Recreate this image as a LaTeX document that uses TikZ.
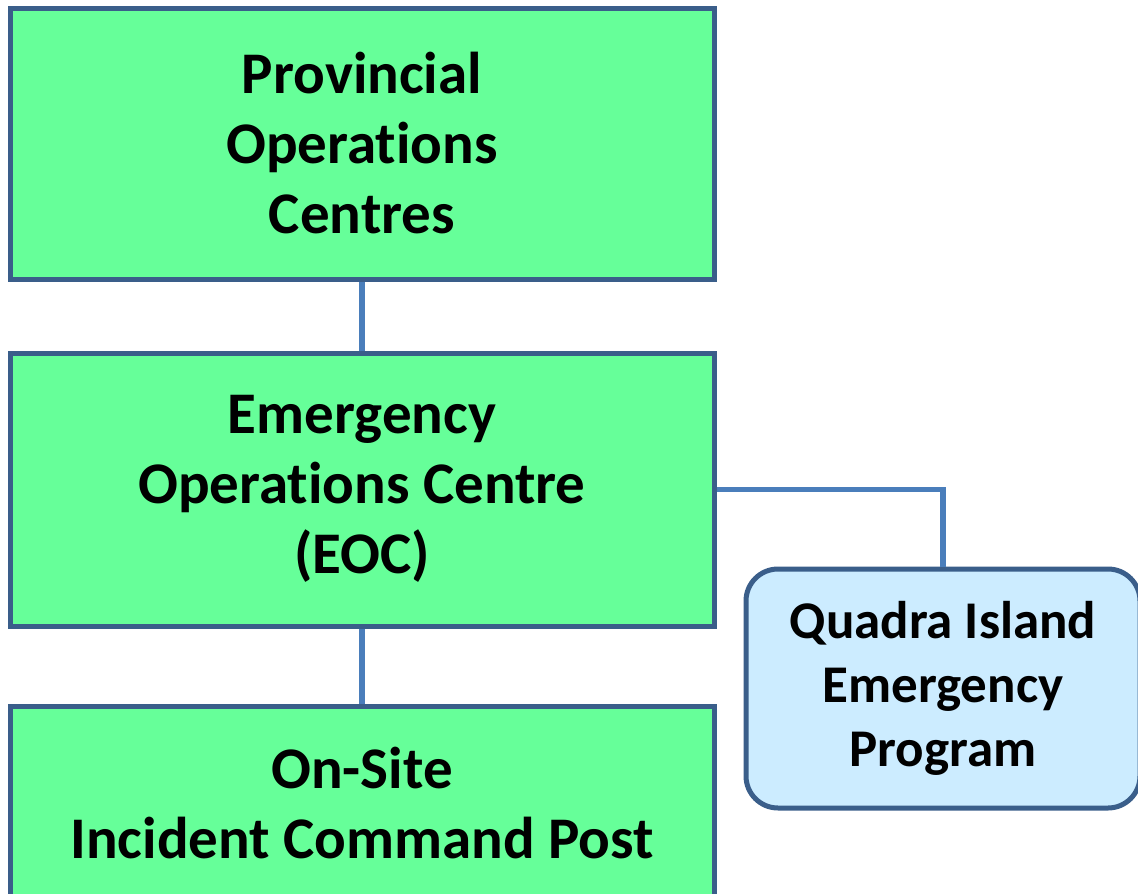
\documentclass[tikz,border=0pt]{standalone}
\usepackage{fontspec}
\setmainfont{Carlito}[Ligatures=NoCommon]
\usepackage{tikz}
\usetikzlibrary{positioning}
\definecolor{boxgreen}{RGB}{102,255,153}
\definecolor{boxblue}{RGB}{204,236,255}
\definecolor{edgeblue}{RGB}{58,94,138}
\definecolor{linkblue}{RGB}{74,126,187}

\begin{document}
\begin{tikzpicture}[x=1pt,y=-1pt,
    centre/.style={draw=edgeblue,line width=5pt,fill=boxgreen,rectangle,
      minimum width=704pt,align=center,inner sep=0pt,
      font=\fontsize{59}{70}\selectfont\bfseries},
    program/.style={draw=edgeblue,line width=5pt,fill=boxblue,rectangle,
      rounded corners=32pt,minimum width=394pt,minimum height=239pt,align=center,
      inner sep=0pt,font=\fontsize{53}{64}\selectfont\bfseries},
    link/.style={draw=linkblue,line width=5.5pt}]
    \useasboundingbox (0,0) rectangle (1138,894);
    \node[centre,minimum height=271pt] (pocs) at (362,143.5) {Provincial\\Operations\\Centres};
    \node[centre,minimum height=273pt,text depth=10pt] (eoc) at (362,489.5) {Emergency\\Operations Centre\\(EOC)};
    \node[centre,minimum height=194pt] (icp) at (362,803) {On-Site\\Incident Command Post};
    \node[program,text depth=10pt] (qiep) at (943,688.5) {Quadra Island\\Emergency\\Program};
    % connectors
    \draw[link] (pocs.south) -- (eoc.north);
    \draw[link] (eoc.south) -- (icp.north);
    \draw[link] (eoc.east) -| (qiep.north);
\end{tikzpicture}
\end{document}
